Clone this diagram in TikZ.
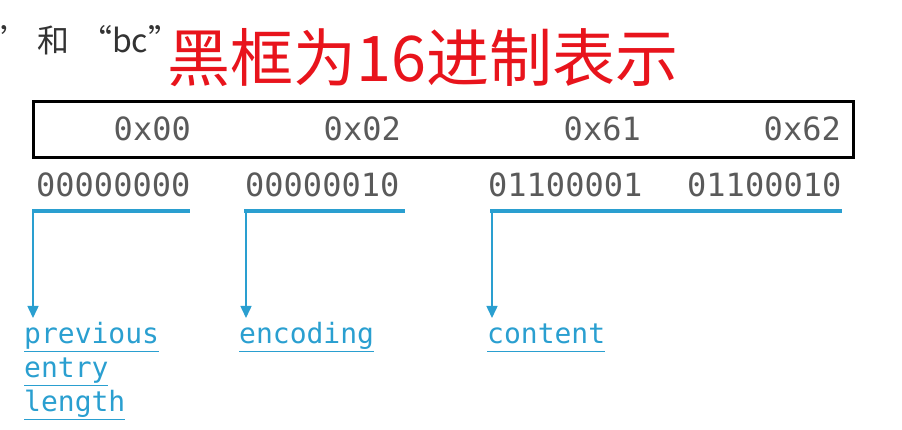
\documentclass[tikz,border=0pt]{standalone}
\usepackage{fontspec}
\setmainfont{Noto Sans}
\newfontfamily\cjkfont{Noto Sans CJK SC}
\newfontfamily\monofont{DejaVu Sans Mono}
\usetikzlibrary{arrows.meta}
\definecolor{hexgray}{HTML}{5A5A5A}
\definecolor{linkblue}{HTML}{2A9FD0}
\definecolor{titlered}{HTML}{E8141C}
\definecolor{textgray}{HTML}{333333}
\begin{document}
\begin{tikzpicture}[x=1pt,y=-1pt,
  hexlabel/.style={font=\monofont\fontsize{32}{32}\selectfont, text=hexgray, inner sep=0pt, anchor=base east},
  binlabel/.style={font=\monofont\fontsize{32}{32}\selectfont, text=hexgray, inner sep=0pt, anchor=base west},
  fieldlabel/.style={font=\monofont\fontsize{28}{34}\selectfont, text=linkblue, inner sep=0pt, anchor=north west, align=left},
  bar/.style={draw=linkblue, line width=4pt},
  pointer/.style={draw=linkblue, line width=1.5pt, -{Triangle[width=11pt,length=12pt]}}
]
\useasboundingbox (0,0) rectangle (902,430);
% top-left partial text
\node[font=\cjkfont\fontsize{32}{32}\selectfont, text=textgray, inner sep=0pt, anchor=base west] (prev) at (0,53) {’\,和\,\,“bc”};
% title
\node[font=\cjkfont\fontsize{63}{63}\selectfont, text=titlered, inner sep=0pt, anchor=base west] (title) at (167,82) {黑框为16进制表示};
% box
\node[draw=black, line width=3pt, minimum width=820pt, minimum height=56pt, inner sep=0pt, anchor=north west] (box) at (32,100) {};
% hex values
\node[hexlabel] (h1) at (191,141) {0x00};
\node[hexlabel] (h2) at (401,141) {0x02};
\node[hexlabel] (h3) at (641,141) {0x61};
\node[hexlabel] (h4) at (841,141) {0x62};
% binary values
\node[binlabel] (b1) at (36,197) {00000000};
\node[binlabel] (b2) at (245,197) {00000010};
\node[binlabel] (b3) at (488,197) {01100001};
\node[binlabel] (b4) at (687,197) {01100010};
% bars
\coordinate (s1) at (32,211); \coordinate (e1) at (190,211);
\coordinate (s2) at (244,211); \coordinate (e2) at (405,211);
\coordinate (s3) at (490,211); \coordinate (e3) at (842,211);
\draw[bar] (s1) -- (e1);
\draw[bar] (s2) -- (e2);
\draw[bar] (s3) -- (e3);
% labels
\node[fieldlabel] (f1) at (24,322) {\underline{previous\vphantom{dg}}\\\underline{entry\vphantom{dg}}\\\underline{length\vphantom{dg}}};
\node[fieldlabel] (f2) at (239,322) {\underline{encoding\vphantom{dg}}};
\node[fieldlabel] (f3) at (487,322) {\underline{content\vphantom{dg}}};
% pointers
\coordinate (t1) at (33,318); \coordinate (t2) at (246,318); \coordinate (t3) at (492,318);
\draw[pointer] ([xshift=1pt,yshift=-2pt]s1) -- (t1);
\draw[pointer] ([xshift=2pt,yshift=-2pt]s2) -- (t2);
\draw[pointer] ([xshift=2pt,yshift=-2pt]s3) -- (t3);
\end{tikzpicture}
\end{document}
